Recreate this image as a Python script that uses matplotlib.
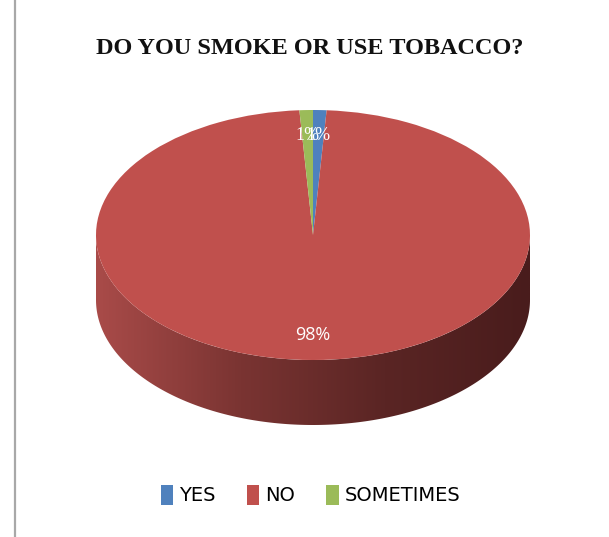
import numpy as np
import matplotlib
matplotlib.use("Agg")
import matplotlib.pyplot as plt
from matplotlib.colors import LinearSegmentedColormap
from matplotlib.patches import Polygon
from matplotlib.lines import Line2D

# ─── données ─────────────────────────────────────────────────────────────────
categories = ["YES", "NO", "SOMETIMES"]
shares = [1, 98, 1]
colors = ["#4F81BD", "#C0504D", "#9BBB59"]
title = "DO YOU SMOKE OR USE TOBACCO?"

# ─── géométrie du camembert 3D (pixels) ──────────────────────────────────────
W, H = 609, 537
cx, cy = 313, 235      # centre de l'ellipse du dessus
a, b = 217, 125        # demi-axes
depth = 65             # épaisseur du disque

fig = plt.figure(figsize=(W / 100, H / 100), dpi=100)
ax = fig.add_axes([0, 0, 1, 1])
ax.axis("off")

# flanc du disque : dégradé horizontal découpé par le contour
dd = depth / b
th = np.linspace(np.pi, 2 * np.pi, 200)
top_arc = np.column_stack([np.cos(th), np.sin(th)])
bot_arc = np.column_stack([np.cos(th[::-1]), np.sin(th[::-1]) - dd])
side = Polygon(np.vstack([top_arc, bot_arc]), closed=True,
               facecolor="none", edgecolor="none")
ax.add_patch(side)
side_cmap = LinearSegmentedColormap.from_list(
    "side", ["#a94b49", "#7a3432", "#5a2524", "#491c1c"])
grad = np.linspace(0, 1, 256).reshape(1, -1)
img = ax.imshow(grad, cmap=side_cmap, aspect="auto",
                extent=[-1, 1, -1 - dd, 0.05], interpolation="bilinear")
img.set_clip_path(side)

# dessus du disque
wedges, _, autotexts = ax.pie(
    shares, colors=colors, startangle=90, counterclock=False,
    autopct="%d%%", pctdistance=0.8, radius=1,
    wedgeprops=dict(linewidth=0),
    textprops=dict(color="white", fontsize=13))
ax.set_aspect("auto")
ax.set_xlim(-cx / a, (W - cx) / a)
ax.set_ylim((cy - H) / b, cy / b)

for t, v in zip(autotexts, shares):
    if v < 5:
        t.set_family("Liberation Serif")
    else:
        t.set_family(["Open Sans", "DejaVu Sans"])
    t.set_fontsize(13)

# titre, légende, filet gauche
fig.text(0.508, 1 - 48 / H, title, ha="center", va="center",
         family="Liberation Serif", fontweight="bold", fontsize=17.5,
         color="#111111")

fig.legend(wedges, categories, loc="center", ncol=3,
           bbox_to_anchor=(0.51, 1 - 495 / H), frameon=False,
           handlelength=0.65, handleheight=1.25,
           handletextpad=0.3, columnspacing=1.6,
           prop=dict(family=["Liberation Sans Narrow", "DejaVu Sans"], size=14))

fig.add_artist(Line2D([15 / W, 15 / W], [0, 1], color="#a8a8a8", lw=1.6,
                      transform=fig.transFigure))

fig.savefig("out.png", dpi=100)
